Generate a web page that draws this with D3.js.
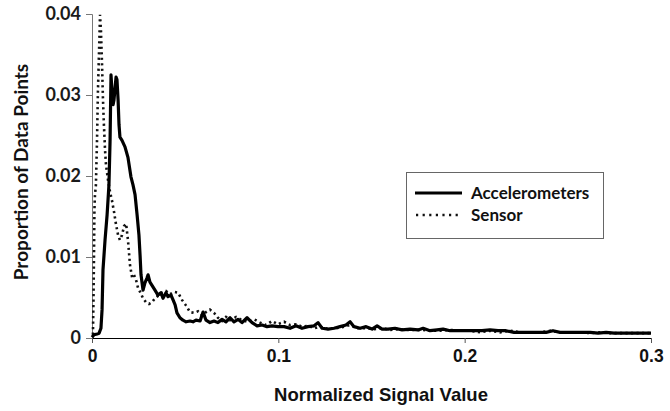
<!DOCTYPE html>
<html><head><meta charset="utf-8">
<script src="https://cdn.jsdelivr.net/npm/d3@7"></script>
<style>html,body{margin:0;padding:0;background:#fff;}</style>
</head><body>
<svg id="chart" width="670" height="411"></svg>
<script>
const xTicks = [0, 0.1, 0.2, 0.3];
const yTicks = [0, 0.01, 0.02, 0.03, 0.04];
const xTickLabels = ["0", "0.1", "0.2", "0.3"];
const yTickLabels = ["0", "0.01", "0.02", "0.03", "0.04"];
const seriesNames = ["Accelerometers", "Sensor"];

const accelX = [0,0.0011,0.0027,0.0038,0.0048,0.0054,0.0059,0.0070,0.0081,0.0091,0.0097,0.0102,0.0107,0.0113,0.0118,0.0124,0.0129,0.0134,0.0140,0.0145,0.0150,0.0161,0.0177,0.0193,0.0209,0.0220,0.0231,0.0242,0.0252,0.0258,0.0263,0.0274,0.0284,0.0295,0.0301,0.0311,0.0322,0.0338,0.0354,0.0370,0.0381,0.0397,0.0408,0.0424,0.0435,0.0446,0.0456,0.0472,0.0488,0.0505,0.0526,0.0542,0.0558,0.0580,0.0596,0.0612,0.0633,0.0655,0.0676,0.0698,0.0719,0.0741,0.0762,0.0784,0.0805,0.0832,0.0859,0.0886,0.0913,0.0939,0.0966,0.0998,0.1031,0.1063,0.1095,0.1127,0.1159,0.1192,0.1213,0.1235,0.1267,0.1299,0.1331,0.1363,0.1385,0.1406,0.1439,0.1471,0.1503,0.1530,0.1557,0.1589,0.1626,0.1664,0.1707,0.1750,0.1777,0.1814,0.1852,0.1884,0.1922,0.1965,0.2008,0.2050,0.2093,0.2136,0.2179,0.2222,0.2265,0.2308,0.2351,0.2394,0.2437,0.2474,0.2512,0.2555,0.2598,0.2641,0.2673,0.2716,0.2759,0.2802,0.2845,0.2888,0.2931,0.2974,0.3000];
const accelY = [0.0001,0.0004,0.0005,0.0006,0.0012,0.0035,0.0084,0.0121,0.0152,0.0189,0.0244,0.0325,0.0306,0.0288,0.0294,0.0309,0.0322,0.0319,0.0294,0.0263,0.0248,0.0244,0.0236,0.0223,0.0199,0.0189,0.0177,0.0152,0.0127,0.0102,0.0078,0.0059,0.0068,0.0074,0.0078,0.0069,0.0065,0.0059,0.0053,0.0056,0.0049,0.0056,0.0051,0.0053,0.0047,0.0041,0.0031,0.0025,0.0022,0.0020,0.0021,0.0020,0.0022,0.0021,0.0032,0.0022,0.0019,0.0021,0.0019,0.0023,0.0020,0.0025,0.0020,0.0023,0.0019,0.0025,0.0019,0.0015,0.0016,0.0014,0.0015,0.0014,0.0014,0.0012,0.0015,0.0012,0.0014,0.0015,0.0019,0.0012,0.0011,0.0012,0.0014,0.0016,0.0020,0.0014,0.0012,0.0014,0.0011,0.0015,0.0011,0.0011,0.0012,0.0010,0.0011,0.0010,0.0012,0.0009,0.0010,0.0011,0.0009,0.0009,0.0009,0.0009,0.0009,0.0010,0.0009,0.0009,0.0007,0.0007,0.0007,0.0007,0.0007,0.0009,0.0007,0.0007,0.0007,0.0007,0.0007,0.0006,0.0007,0.0006,0.0006,0.0006,0.0006,0.0006,0.0006];

const sensorX = [0.0005,0.0008,0.0011,0.0013,0.0016,0.0021,0.0027,0.0032,0.0038,0.0043,0.0048,0.0054,0.0059,0.0064,0.0070,0.0075,0.0086,0.0097,0.0107,0.0118,0.0129,0.0140,0.0150,0.0161,0.0172,0.0183,0.0193,0.0204,0.0215,0.0225,0.0236,0.0247,0.0258,0.0274,0.0290,0.0306,0.0322,0.0338,0.0354,0.0376,0.0397,0.0419,0.0440,0.0462,0.0483,0.0505,0.0526,0.0548,0.0569,0.0590,0.0612,0.0633,0.0655,0.0676,0.0698,0.0719,0.0741,0.0773,0.0805,0.0837,0.0870,0.0902,0.0934,0.0966,0.0998,0.1031,0.1063,0.1095,0.1127,0.1159,0.1192,0.1224,0.1267,0.1310,0.1353,0.1385,0.1428,0.1471,0.1514,0.1557,0.1600,0.1643,0.1685,0.1728,0.1771,0.1814,0.1868,0.1922,0.1975,0.2029,0.2083,0.2136,0.2190,0.2244,0.2297,0.2351,0.2405,0.2458,0.2512,0.2566,0.2619,0.2673,0.2727,0.2780,0.2834,0.2888,0.2941,0.2995];
const sensorY = [0.0004,0.0047,0.0109,0.0158,0.0177,0.0189,0.0244,0.0306,0.0356,0.0399,0.0380,0.0337,0.0294,0.0263,0.0232,0.0214,0.0195,0.0180,0.0170,0.0156,0.0140,0.0127,0.0121,0.0127,0.0138,0.0141,0.0121,0.0090,0.0075,0.0078,0.0072,0.0062,0.0057,0.0049,0.0044,0.0042,0.0044,0.0049,0.0052,0.0056,0.0058,0.0054,0.0057,0.0056,0.0047,0.0040,0.0032,0.0031,0.0033,0.0028,0.0032,0.0035,0.0031,0.0025,0.0021,0.0026,0.0022,0.0026,0.0022,0.0020,0.0023,0.0019,0.0016,0.0021,0.0017,0.0020,0.0016,0.0017,0.0014,0.0015,0.0012,0.0014,0.0011,0.0012,0.0014,0.0016,0.0012,0.0012,0.0011,0.0012,0.0010,0.0011,0.0010,0.0010,0.0010,0.0009,0.0009,0.0010,0.0009,0.0009,0.0007,0.0009,0.0007,0.0009,0.0007,0.0007,0.0007,0.0009,0.0007,0.0007,0.0007,0.0006,0.0007,0.0006,0.0006,0.0006,0.0006,0.0006];

const svg = d3.select("#chart");
const x = d3.scaleLinear().domain([0, 0.3]).range([92, 651]);
const y = d3.scaleLinear().domain([0, 0.04]).range([338, 14]);

// y axis
const yAxis = d3.axisLeft(y).tickValues(yTicks).tickFormat((d,i)=>yTickLabels[i]).tickSize(6).tickPadding(5);
const gy = svg.append("g").attr("transform","translate(92,0)").call(yAxis);
gy.select(".domain").attr("stroke","#777").attr("stroke-width",1);
gy.selectAll(".tick line").attr("stroke","#777");
gy.selectAll(".tick text").attr("font-family","Lato, 'Open Sans', sans-serif").attr("font-weight","bold").attr("font-size","18px").attr("fill","#1a1a1a");

// x axis
const xAxis = d3.axisBottom(x).tickValues(xTicks).tickFormat((d,i)=>xTickLabels[i]).tickSize(5).tickPadding(7);
const gx = svg.append("g").attr("transform","translate(0,338)").call(xAxis);
gx.select(".domain").attr("stroke","#000").attr("stroke-width",1);
gx.selectAll(".tick line").attr("stroke","#555");
gx.selectAll(".tick text").attr("font-family","'Liberation Sans', Arial, sans-serif").attr("font-weight","bold").attr("font-size","17.5px").attr("fill","#111");

const line = d3.line().x(d=>x(d[0])).y(d=>y(d[1]));
const accel = accelX.map((v,i)=>[v, accelY[i]]);
const sensor = sensorX.map((v,i)=>[v, sensorY[i]]);

const dotDash = "2.2,3.3";
svg.append("path").datum(sensor).attr("d", line).attr("fill","none").attr("stroke","#111")
  .attr("stroke-width",2.6).attr("stroke-dasharray",dotDash);
svg.append("path").datum(accel).attr("d", line).attr("fill","none").attr("stroke","#000")
  .attr("stroke-width",3.2).attr("stroke-linejoin","round");

// titles
svg.append("text").attr("x",381).attr("y",401).attr("text-anchor","middle")
  .attr("font-family","'Liberation Sans', Arial, sans-serif").attr("font-weight","bold").attr("font-size","18.5px").attr("fill","#111")
  .text("Normalized Signal Value");
svg.append("text").attr("transform","translate(28,172) rotate(-90)").attr("text-anchor","middle")
  .attr("font-family","Lato, 'Open Sans', sans-serif").attr("font-weight","bold").attr("font-size","19px").attr("fill","#111")
  .text("Proportion of Data Points");

// legend
const lg = svg.append("g");
lg.append("rect").attr("x",406.5).attr("y",172.5).attr("width",197).attr("height",66).attr("fill","#fff").attr("stroke","#666").attr("stroke-width",1);
lg.append("line").attr("x1",415).attr("x2",462).attr("y1",193).attr("y2",193).attr("stroke","#000").attr("stroke-width",3.2);
lg.append("line").attr("x1",416).attr("x2",462).attr("y1",215).attr("y2",215).attr("stroke","#111").attr("stroke-width",2.6).attr("stroke-dasharray","2.2,4.4");
lg.append("text").attr("x",471).attr("y",199).attr("font-family","Lato, 'Open Sans', sans-serif").attr("font-weight","bold").attr("font-size","17px").attr("fill","#111").text(seriesNames[0]);
lg.append("text").attr("x",471).attr("y",221).attr("font-family","Lato, 'Open Sans', sans-serif").attr("font-weight","bold").attr("font-size","17px").attr("fill","#111").text(seriesNames[1]);
</script>
</body></html>
